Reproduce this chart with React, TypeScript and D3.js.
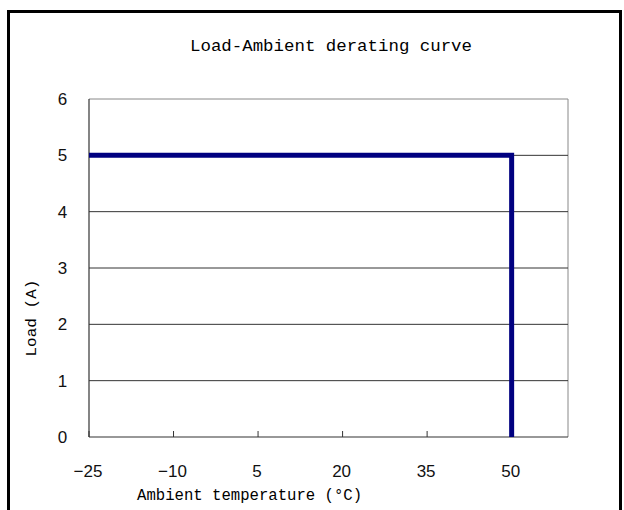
import React from "react";
import * as d3 from "d3";

const temps = [-25, 50, 50];
const loads = [5, 5, 0];
const xTicks = [-25, -10, 5, 20, 35, 50];
const yTicks = [0, 1, 2, 3, 4, 5, 6];
const title = "Load-Ambient derating curve";
const xLabel = "Ambient temperature (°C)";
const yLabel = "Load (A)";

export default function App() {
  const W = 624, H = 510;
  const m = { left: 89, right: 568, top: 99, bottom: 437 };
  const x = d3.scaleLinear().domain([-25, 60]).range([m.left, m.right]);
  const y = d3.scaleLinear().domain([0, 6]).range([m.bottom, m.top]);
  const pts = temps.map((t, i) => [t, loads[i]] as [number, number]);
  const line = d3.line<[number, number]>().x(d => x(d[0])).y(d => y(d[1]));
  const mono = "'Liberation Mono', 'DejaVu Sans Mono', monospace";
  const sans = "'Liberation Sans', Arial, sans-serif";
  const fmt = (v: number) => (v < 0 ? "\u2212" + Math.abs(v) : String(v));
  return (
    <svg width={W} height={H} style={{ position: "absolute", left: 0, top: 0, background: "#fff" }}>
      <rect x={0} y={0} width={W} height={H} fill="#fff" />
      <rect x={8.5} y={11.5} width={612} height={H + 20} fill="none" stroke="#000" strokeWidth={3} />
      <text x={331} y={51} textAnchor="middle" fontFamily={mono} fontSize={16} textLength={282} lengthAdjust="spacingAndGlyphs" fill="#000">{title}</text>
      <line x1={m.left} x2={m.right} y1={m.top} y2={m.top} stroke="#888" strokeWidth={1} />
      <line x1={m.right} x2={m.right} y1={m.top} y2={m.bottom} stroke="#888" strokeWidth={1} />
      {yTicks.filter(v => v > 0 && v < 6).map(v => (
        <line key={v} x1={m.left} x2={m.right} y1={y(v)} y2={y(v)} stroke="#333" strokeWidth={1} />
      ))}
      <line x1={m.left} x2={m.left} y1={m.top} y2={m.bottom} stroke="#333" strokeWidth={1.2} />
      <line x1={m.left} x2={m.right} y1={m.bottom} y2={m.bottom} stroke="#333" strokeWidth={1.2} />
      {xTicks.map(v => (
        <line key={v} x1={x(v)} x2={x(v)} y1={m.bottom} y2={m.bottom - 6} stroke="#333" strokeWidth={1} />
      ))}
      {yTicks.map(v => (
        <text key={v} x={62.5} y={y(v) + 6} textAnchor="middle" fontFamily={sans} fontSize={17} fill="#111">{v}</text>
      ))}
      {xTicks.map(v => (
        <text key={v} x={x(v) - 1} y={477} textAnchor="middle" fontFamily={sans} fontSize={17} fill="#111">{fmt(v)}</text>
      ))}
      <text x={249.5} y={500} textAnchor="middle" fontFamily={mono} fontSize={16} textLength={225} lengthAdjust="spacingAndGlyphs" fill="#000">{xLabel}</text>
      <text transform="translate(36,318) rotate(-90)" textAnchor="middle" fontFamily={mono} fontSize={15} textLength={77} lengthAdjust="spacingAndGlyphs" fill="#000">{yLabel}</text>
      <path d={line(pts) || ""} fill="none" stroke="#000080" strokeWidth={5} strokeLinejoin="miter" />
    </svg>
  );
}
